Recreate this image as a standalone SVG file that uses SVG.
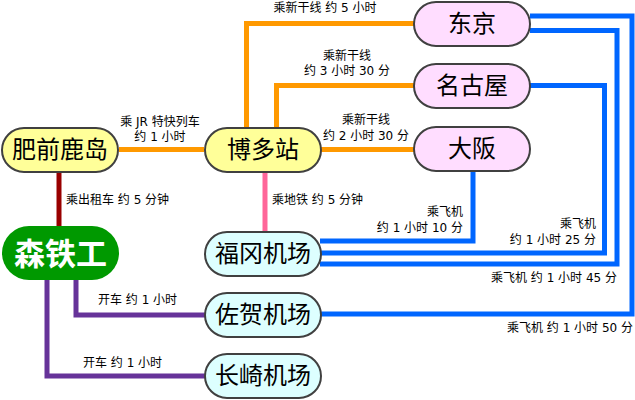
<svg xmlns="http://www.w3.org/2000/svg" width="635" height="400" viewBox="0 0 635 400">
<style>
.c{fill:none;stroke-width:5}
.or{stroke:#ff9900}
.bl{stroke:#0066ff}
.pu{stroke:#663399}
.rd{stroke:#990000}
.pk{stroke:#ff6699}
.n{stroke:#404040;stroke-width:2}
.y{fill:#ffff99}
.p{fill:#ffddff}
.a{fill:#ddffff}
.nt{font-family:"Noto Sans CJK SC","Noto Sans CJK JP",sans-serif;font-size:24px;fill:#000;text-anchor:middle}
.lb{font-family:"DejaVu Sans","Noto Sans CJK SC",sans-serif;font-size:12px;fill:#000}
.m{text-anchor:middle}
.e{text-anchor:end}
</style>
<g id="connectors">
<path class="c or" d="M119,149.5H204"/>
<path class="c or" d="M246.5,128V23.5H414"/>
<path class="c or" d="M276.5,128V85.5H414"/>
<path class="c or" d="M321,149.5H414"/>
<path class="c rd" d="M59,172V226"/>
<path class="c pk" d="M265,172V232"/>
<path class="c pu" d="M76,279V315H205"/>
<path class="c pu" d="M47,279V376H205"/>
<path class="c bl" d="M473,171V241H320"/>
<path class="c bl" d="M530,85.5H604.5V253H320"/>
<path class="c bl" d="M530,30.5H617V264H320"/>
<path class="c bl" d="M530,16H632V314H320"/>
</g>
<g id="labels">
<text class="lb m" x="160" y="126">乘 JR 特快列车</text>
<text class="lb m" x="160" y="141">约 1 小时</text>
<text class="lb m" x="325" y="12">乘新干线 约 5 小时</text>
<text class="lb m" x="347" y="60">乘新干线</text>
<text class="lb m" x="347" y="75">约 3 小时 30 分</text>
<text class="lb m" x="366" y="124">乘新干线</text>
<text class="lb m" x="366" y="140">约 2 小时 30 分</text>
<text class="lb" x="66" y="204">乘出租车 约 5 分钟</text>
<text class="lb" x="272" y="204">乘地铁 约 5 分钟</text>
<text class="lb e" x="463" y="216">乘飞机</text>
<text class="lb e" x="463" y="232">约 1 小时 10 分</text>
<text class="lb e" x="596" y="228">乘飞机</text>
<text class="lb e" x="596" y="244">约 1 小时 25 分</text>
<text class="lb e" x="617" y="282">乘飞机 约 1 小时 45 分</text>
<text class="lb e" x="633" y="332">乘飞机 约 1 小时 50 分</text>
<text class="lb" x="98" y="304">开车 约 1 小时</text>
<text class="lb" x="83" y="367">开车 约 1 小时</text>
</g>
<g id="hizenkashima"><rect class="n y" x="2" y="128" width="116" height="44" rx="22"/><text class="nt" x="60" y="158">肥前鹿岛</text></g>
<g id="hakata"><rect class="n y" x="205" y="128" width="116" height="44" rx="22"/><text class="nt" x="263" y="158">博多站</text></g>
<g id="tokyo"><rect class="n p" x="414" y="2" width="116" height="44" rx="22"/><text class="nt" x="472" y="32">东京</text></g>
<g id="nagoya"><rect class="n p" x="414" y="64" width="116" height="44" rx="22"/><text class="nt" x="472" y="94">名古屋</text></g>
<g id="osaka"><rect class="n p" x="414" y="127" width="116" height="44" rx="22"/><text class="nt" x="472" y="157">大阪</text></g>
<g id="moritetsuko"><rect fill="#009900" x="2" y="226" width="117" height="54" rx="27"/><text class="nt" x="60.5" y="265" style="font-size:31px;font-weight:bold;fill:#fff">森铁工</text></g>
<g id="fukuoka-airport"><rect class="n a" x="205" y="232" width="116" height="44" rx="22"/><text class="nt" x="263" y="262">福冈机场</text></g>
<g id="saga-airport"><rect class="n a" x="205" y="293" width="116" height="44" rx="22"/><text class="nt" x="263" y="323">佐贺机场</text></g>
<g id="nagasaki-airport"><rect class="n a" x="205" y="354" width="116" height="44" rx="22"/><text class="nt" x="263" y="384">长崎机场</text></g>
</svg>
